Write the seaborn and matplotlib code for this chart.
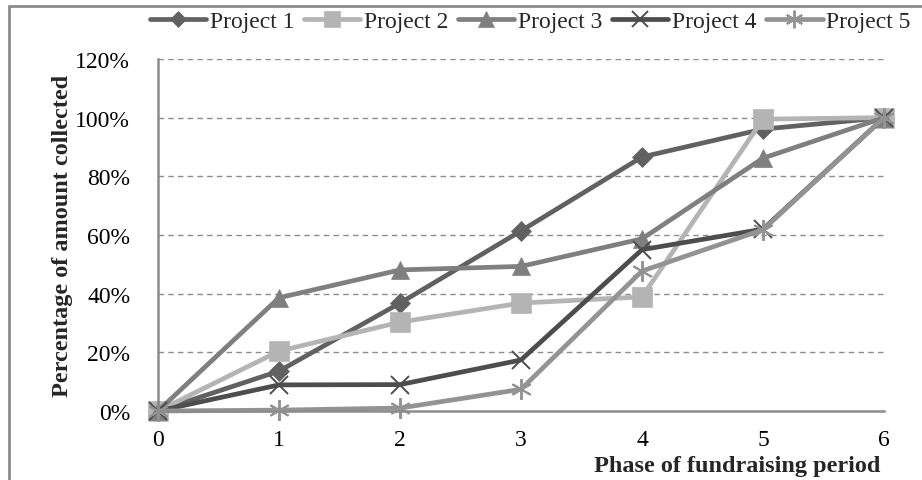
import matplotlib
matplotlib.use("Agg")
import matplotlib.pyplot as plt
import matplotlib.patches as mpatches
import seaborn as sns
import pandas as pd
import numpy as np

phases = [0, 1, 2, 3, 4, 5, 6]
project_1 = [0.0, 13.6, 36.8, 61.4, 86.6, 96.1, 100.0]
project_2 = [0.0, 20.4, 30.3, 36.8, 38.9, 99.5, 100.0]
project_3 = [0.0, 38.6, 48.1, 49.3, 58.7, 86.2, 100.0]
project_4 = [0.0, 8.9, 9.0, 17.4, 55.0, 62.0, 100.0]
project_5 = [0.0, 0.3, 1.0, 7.4, 47.7, 61.8, 100.0]
names = ["Project 1", "Project 2", "Project 3", "Project 4", "Project 5"]
y_ticks = [0, 20, 40, 60, 80, 100, 120]
y_tick_labels = ["0%", "20%", "40%", "60%", "80%", "100%", "120%"]

series = [project_1, project_2, project_3, project_4, project_5]
df = pd.DataFrame({
    "phase": phases * len(names),
    "pct": [v for s in series for v in s],
    "project": [n for n in names for _ in phases],
})

colors = ["#616161", "#b4b4b4", "#7f7f7f", "#4d4d4d", "#939393"]
markers = ["D", "s", "^", "x", (6, 2, 0)]
msizes = [10, 14, 13, 13, 15]

sns.set_style("white")
plt.rcParams["font.family"] = ["Liberation Serif", "DejaVu Serif"]

fig = plt.figure(figsize=(9.22, 4.81), dpi=100)
ax = fig.add_axes([158 / 922, 1 - 412 / 481, (884 - 158) / 922, (412 - 60) / 481])

for name, col, mk, ms in zip(names, colors, markers, msizes):
    sub = df[df["project"] == name]
    sns.lineplot(data=sub, x="phase", y="pct", ax=ax, color=col, marker=mk,
                 markersize=ms, linewidth=3.4, label=name, clip_on=False,
                 markeredgecolor=col, markeredgewidth=1.4 if mk in ("x", (6, 2, 0)) else 0.5)

ax.set_xlim(0, 6)
ax.set_ylim(0, 120)
ax.set_yticks(y_ticks)
ax.set_yticklabels(y_tick_labels)
ax.set_xticks(phases)
ax.set_xticklabels([str(p) for p in phases])
for y in y_ticks[1:]:
    ax.axhline(y, color="#8c8c8c", linestyle=(0, (4, 3)), linewidth=1.0, zorder=0)

for s in ["top", "right"]:
    ax.spines[s].set_visible(False)
for s in ["left", "bottom"]:
    ax.spines[s].set_color("#8c8c8c")
    ax.spines[s].set_linewidth(1.8)
ax.tick_params(axis="both", direction="out", length=6, width=1.8, color="#8c8c8c",
               labelsize=17, labelcolor="black")
ax.tick_params(axis="y", pad=14)
ax.tick_params(axis="x", pad=7)
ax.set_xlabel("")
ax.set_ylabel("")

fig.text(63 / 922, 1 - 236 / 481, "Percentage of amount collected", rotation=90,
         ha="center", va="center", fontsize=17.5, fontweight="bold")
fig.text(880 / 922, 1 - 467 / 481, "Phase of fundraising period",
         ha="right", va="center", fontsize=17.5, fontweight="bold")

leg = ax.legend(loc="center", bbox_to_anchor=(530 / 922, 1 - 22 / 481),
                bbox_transform=fig.transFigure, ncol=5, frameon=False,
                fontsize=17, handlelength=2.4, handletextpad=0.15, columnspacing=0.4,
                markerscale=0.85)
for t in leg.get_texts():
    t.set_fontfamily(["Liberation Serif", "DejaVu Serif"])

rect = mpatches.Rectangle((9 / 922, -0.1), 1.1, 1 - 7 / 481 + 0.1, transform=fig.transFigure,
                          fill=False, edgecolor="#8c8c8c", linewidth=2.0, clip_on=False)
fig.patches.append(rect)

fig.savefig("out.png", dpi=100)
